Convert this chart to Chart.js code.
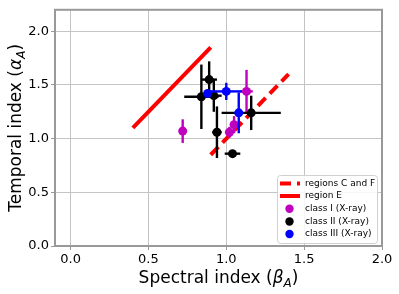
<!DOCTYPE html>
<html>
<head>
<meta charset="utf-8">
<script src="https://cdn.jsdelivr.net/npm/chart.js@4/dist/chart.umd.min.js"></script>
<style>
html,body{margin:0;padding:0;background:#fff;}
#wrap{width:399px;height:294px;position:relative;}
</style>
</head>
<body>
<div id="wrap"><canvas id="c" width="399" height="294"></canvas></div>
<script>
// ---- data ----
const xTicks = [0.0, 0.5, 1.0, 1.5, 2.0];
const yTicks = [0.0, 0.5, 1.0, 1.5, 2.0];

const regionCF_x = [0.9, 1.4];
const regionCF_y = [0.85, 1.6];
const regionE_x = [0.4, 0.9];
const regionE_y = [1.1, 1.85];

const class1_x = [0.72, 1.13, 1.05, 1.02];
const class1_y = [1.07, 1.44, 1.13, 1.06];
const class1_xerr = [0, 0.04, 0, 0];
const class1_yerr = [0.11, 0.20, 0.08, 0.05];

const class2_x = [0.84, 0.89, 0.92, 0.94, 1.04, 1.16];
const class2_y = [1.39, 1.55, 1.40, 1.06, 0.86, 1.24];
const class2_xerr = [0.11, 0.05, 0.05, 0.03, 0.05, 0.19];
const class2_yerr = [0.30, 0.17, 0.15, 0.24, 0, 0.16];

const class3_x = [0.88, 1.00, 1.08];
const class3_y = [1.42, 1.44, 1.24];
const class3_xerr = [0, 0.10, 0];
const class3_yerr = [0, 0.08, 0.19];

const legendLabels = ["regions C and F", "region E", "class I (X-ray)", "class II (X-ray)", "class III (X-ray)"];
const xTitle = ["Spectral index (", "β", "A", ")"];
const yTitle = ["Temporal index (", "α", "A", ")"];

const RED = '#ff0000', MAG = '#bf00bf', BLK = '#000000', BLU = '#0000ff';

function pts(xs, ys) { return xs.map((x, i) => ({x: x, y: ys[i]})); }

const errData = {
  2: {x: class1_x, y: class1_y, xe: class1_xerr, ye: class1_yerr, c: MAG},
  3: {x: class2_x, y: class2_y, xe: class2_xerr, ye: class2_yerr, c: BLK},
  4: {x: class3_x, y: class3_y, xe: class3_xerr, ye: class3_yerr, c: BLU}
};

const errorBarPlugin = {
  id: 'errbars',
  beforeDatasetDraw(chart, args) {
    const e = errData[args.index];
    if (!e) return;
    const xs = chart.scales.x, ys = chart.scales.y, ctx = chart.ctx;
    ctx.save();
    ctx.strokeStyle = e.c;
    ctx.lineWidth = 2.4;
    ctx.lineCap = 'butt';
    for (let i = 0; i < e.x.length; i++) {
      const px = xs.getPixelForValue(e.x[i]), py = ys.getPixelForValue(e.y[i]);
      if (e.xe[i] > 0) {
        ctx.beginPath();
        ctx.moveTo(xs.getPixelForValue(e.x[i] - e.xe[i]), py);
        ctx.lineTo(xs.getPixelForValue(e.x[i] + e.xe[i]), py);
        ctx.stroke();
      }
      if (e.ye[i] > 0) {
        ctx.beginPath();
        ctx.moveTo(px, ys.getPixelForValue(e.y[i] - e.ye[i]));
        ctx.lineTo(px, ys.getPixelForValue(e.y[i] + e.ye[i]));
        ctx.stroke();
      }
    }
    ctx.restore();
  }
};

function drawRich(ctx, parts, size) {
  const fam = '"DejaVu Sans"';
  const segs = [
    {t: parts[0], f: size + 'px ' + fam, dy: 0},
    {t: parts[1], f: 'italic ' + size + 'px ' + fam, dy: 0},
    {t: parts[2], f: 'italic ' + Math.round(size * 0.7) + 'px ' + fam, dy: size * 0.22},
    {t: parts[3], f: size + 'px ' + fam, dy: 0}
  ];
  let total = 0;
  segs.forEach(s => { ctx.font = s.f; s.w = ctx.measureText(s.t).width; total += s.w; });
  let x = -total / 2;
  ctx.textBaseline = 'alphabetic';
  ctx.textAlign = 'left';
  ctx.fillStyle = '#000';
  segs.forEach(s => { ctx.font = s.f; ctx.fillText(s.t, x, s.dy); x += s.w; });
}

const decorPlugin = {
  id: 'decor',
  afterDraw(chart) {
    const ctx = chart.ctx, a = chart.chartArea;
    ctx.save();
    // frame (top/right spines)
    ctx.strokeStyle = '#999';
    ctx.lineWidth = 2;
    ctx.strokeRect(a.left, a.top, a.right - a.left, a.bottom - a.top);
    // axis titles
    ctx.save();
    ctx.translate((a.left + a.right) / 2, 283);
    drawRich(ctx, xTitle, 17);
    ctx.restore();
    ctx.save();
    ctx.translate(21, (a.top + a.bottom) / 2);
    ctx.rotate(-Math.PI / 2);
    drawRich(ctx, yTitle, 17);
    ctx.restore();
    // legend
    const lx = 277, ly = 175, lw = 100, lh = 68;
    ctx.fillStyle = 'rgba(255,255,255,0.85)';
    ctx.strokeStyle = '#d0d0d0';
    ctx.lineWidth = 1;
    ctx.beginPath();
    if (ctx.roundRect) ctx.roundRect(lx + 0.5, ly + 0.5, lw, lh, 3); else ctx.rect(lx + 0.5, ly + 0.5, lw, lh);
    ctx.fill();
    ctx.stroke();
    const rowY = [183.5, 196, 208.7, 221.5, 234];
    ctx.font = '9px "DejaVu Sans"';
    ctx.textBaseline = 'middle';
    ctx.textAlign = 'left';
    // line samples
    ctx.lineWidth = 4;
    ctx.strokeStyle = RED;
    ctx.setLineDash([11, 6]);
    ctx.beginPath(); ctx.moveTo(280, rowY[0]); ctx.lineTo(300, rowY[0]); ctx.stroke();
    ctx.setLineDash([]);
    ctx.beginPath(); ctx.moveTo(280, rowY[1]); ctx.lineTo(300, rowY[1]); ctx.stroke();
    const mc = [MAG, BLK, BLU];
    for (let k = 0; k < 3; k++) {
      ctx.fillStyle = mc[k];
      ctx.beginPath(); ctx.arc(289.5, rowY[k + 2], 4.2, 0, Math.PI * 2); ctx.fill();
    }
    ctx.fillStyle = '#000';
    legendLabels.forEach((t, i) => ctx.fillText(t, 305, rowY[i]));
    ctx.restore();
  }
};

const tickFont = {family: '"DejaVu Sans"', size: 13};

new Chart(document.getElementById('c'), {
  type: 'scatter',
  data: {
    datasets: [
      {type: 'line', label: legendLabels[0], data: pts(regionCF_x, regionCF_y), borderColor: RED, borderWidth: 4, borderDash: [11, 6], pointRadius: 0, fill: false, order: 5, borderCapStyle: 'butt'},
      {type: 'line', label: legendLabels[1], data: pts(regionE_x, regionE_y), borderColor: RED, borderWidth: 4, pointRadius: 0, fill: false, order: 4, borderCapStyle: 'butt'},
      {label: legendLabels[2], data: pts(class1_x, class1_y), backgroundColor: MAG, borderColor: MAG, pointRadius: 4.5, borderWidth: 0, order: 3},
      {label: legendLabels[3], data: pts(class2_x, class2_y), backgroundColor: BLK, borderColor: BLK, pointRadius: 4.5, borderWidth: 0, order: 2},
      {label: legendLabels[4], data: pts(class3_x, class3_y), backgroundColor: BLU, borderColor: BLU, pointRadius: 4.5, borderWidth: 0, order: 1}
    ]
  },
  options: {
    responsive: false,
    animation: false,
    devicePixelRatio: 1,
    layout: {padding: {top: 8, right: 17, left: 0, bottom: 0}},
    plugins: {legend: {display: false}, tooltip: {enabled: false}},
    scales: {
      x: {
        type: 'linear', min: -0.1, max: 2.0,
        afterBuildTicks: s => { s.ticks = xTicks.map(v => ({value: v})); },
        afterFit: s => { s.height = 48; },
        ticks: {font: tickFont, color: '#000', padding: 2, maxRotation: 0, callback: v => Number(v).toFixed(1)},
        grid: {color: '#c4c4c4', lineWidth: 1, tickLength: 4, tickColor: '#999'},
        border: {color: '#999', width: 2}
      },
      y: {
        type: 'linear', min: 0, max: 2.2,
        afterBuildTicks: s => { s.ticks = yTicks.map(v => ({value: v})); },
        afterFit: s => { s.width = 55; },
        ticks: {font: tickFont, color: '#000', padding: 2, callback: v => Number(v).toFixed(1)},
        grid: {color: '#c4c4c4', lineWidth: 1, tickLength: 4, tickColor: '#999'},
        border: {color: '#999', width: 2}
      }
    }
  },
  plugins: [errorBarPlugin, decorPlugin]
});
</script>
</body>
</html>
